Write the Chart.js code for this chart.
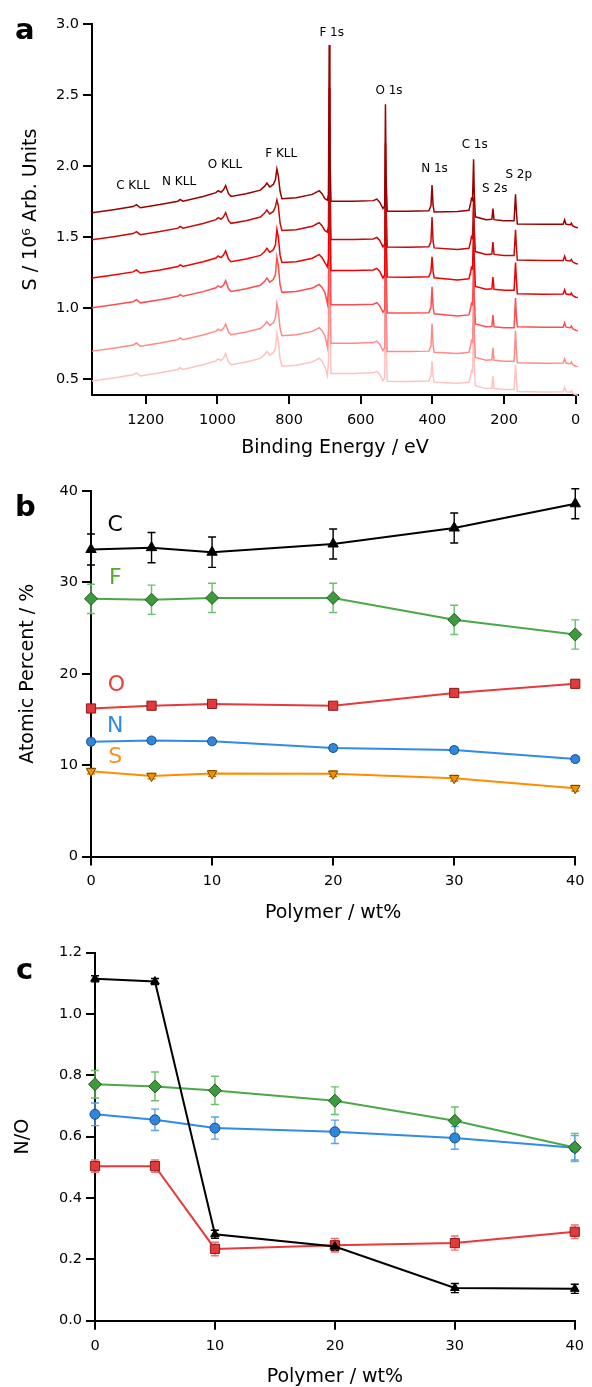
<!DOCTYPE html>
<html>
<head>
<meta charset="utf-8">
<script src="https://cdn.jsdelivr.net/npm/chart.js@4.4.1/dist/chart.umd.min.js"></script>
<style>
  html,body{margin:0;padding:0;background:#fff;}
  #wrap{position:relative;width:592px;height:1387px;overflow:hidden;font-family:"DejaVu Sans",sans-serif;}
  canvas{position:absolute;left:0;}
  .plab{position:absolute;font-weight:bold;font-size:29px;line-height:1;color:#000;}
</style>
</head>
<body>
<div id="wrap">
  <canvas id="ca" width="592" height="470" style="top:0;width:592px;height:470px"></canvas>
  <canvas id="cb" width="592" height="470" style="top:470px;width:592px;height:470px"></canvas>
  <canvas id="cc" width="592" height="447" style="top:940px;width:592px;height:447px"></canvas>
  <div class="plab" style="left:15px;top:15px">a</div>
  <div class="plab" style="left:15px;top:492px">b</div>
  <div class="plab" style="left:16px;top:955px">c</div>
</div>
<script>
// ---------------- Panel a : XPS survey spectra ----------------
const energy = [1350,1290,1235,1226,1215,1160,1110,1104,1096,1040,1004,998,990,983,977,969,962,920,880,868,862,854,844,838,834,830,825,820,780,735,722,716,708,700,693,690,688,686,683,620,565,555,547,538,533,531,529,526,470,410,404,401,398,395,330,298,293,291,288,285,283,280,250,234,231,228,200,172,168,166,163,90,35,31,27,15,12,9,0,-6];

const spectrum1 = [1.671,1.692,1.714,1.728,1.706,1.728,1.752,1.764,1.752,1.785,1.812,1.826,1.815,1.832,1.862,1.805,1.786,1.805,1.830,1.858,1.880,1.852,1.870,1.905,1.979,1.930,1.820,1.770,1.776,1.800,1.818,1.826,1.805,1.770,1.760,1.800,2.852,2.100,1.752,1.752,1.756,1.767,1.745,1.700,1.720,2.435,1.900,1.682,1.681,1.684,1.720,1.866,1.720,1.676,1.680,1.688,1.740,1.770,1.760,2.047,1.800,1.642,1.622,1.625,1.700,1.622,1.615,1.615,1.800,1.700,1.592,1.589,1.590,1.620,1.590,1.586,1.597,1.580,1.568,1.565];
const spectrum2 = [1.481,1.502,1.524,1.538,1.516,1.538,1.562,1.574,1.562,1.595,1.622,1.636,1.625,1.642,1.672,1.615,1.596,1.615,1.640,1.668,1.690,1.662,1.680,1.715,1.760,1.720,1.595,1.545,1.551,1.575,1.593,1.601,1.580,1.545,1.535,1.575,2.550,1.950,1.482,1.482,1.486,1.497,1.475,1.430,1.450,2.160,1.700,1.429,1.428,1.431,1.467,1.640,1.467,1.423,1.412,1.420,1.472,1.502,1.492,1.780,1.550,1.397,1.377,1.380,1.465,1.377,1.370,1.370,1.550,1.450,1.337,1.334,1.335,1.365,1.335,1.331,1.342,1.325,1.313,1.310];
const spectrum3 = [1.211,1.232,1.254,1.268,1.246,1.268,1.292,1.304,1.292,1.325,1.352,1.366,1.355,1.372,1.402,1.345,1.326,1.345,1.370,1.398,1.420,1.392,1.410,1.445,1.554,1.500,1.370,1.320,1.326,1.350,1.368,1.376,1.355,1.320,1.290,1.350,2.300,1.750,1.264,1.264,1.268,1.279,1.257,1.212,1.232,1.930,1.500,1.218,1.217,1.220,1.256,1.360,1.256,1.212,1.197,1.205,1.257,1.287,1.277,1.570,1.330,1.152,1.132,1.135,1.218,1.132,1.125,1.125,1.320,1.220,1.100,1.097,1.098,1.128,1.098,1.094,1.105,1.088,1.076,1.073];
const spectrum4 = [1.001,1.022,1.044,1.058,1.036,1.058,1.082,1.094,1.082,1.115,1.142,1.156,1.145,1.162,1.192,1.135,1.116,1.135,1.160,1.188,1.210,1.182,1.200,1.235,1.357,1.300,1.160,1.110,1.116,1.140,1.158,1.166,1.145,1.110,1.030,1.140,2.050,1.550,1.022,1.022,1.026,1.037,1.015,0.970,0.990,1.680,1.250,0.965,0.964,0.967,1.003,1.150,1.003,0.959,0.943,0.951,1.003,1.033,1.023,1.320,1.080,0.887,0.867,0.870,0.950,0.867,0.860,0.860,1.070,0.960,0.867,0.864,0.865,0.895,0.865,0.861,0.872,0.855,0.843,0.840];
const spectrum5 = [0.696,0.717,0.739,0.753,0.731,0.753,0.777,0.789,0.777,0.810,0.837,0.851,0.840,0.857,0.887,0.830,0.811,0.830,0.855,0.883,0.905,0.877,0.895,0.930,1.033,0.980,0.855,0.805,0.811,0.835,0.853,0.861,0.840,0.805,0.725,0.835,1.750,1.250,0.752,0.752,0.756,0.767,0.745,0.700,0.720,1.400,0.980,0.694,0.693,0.696,0.732,0.890,0.732,0.688,0.680,0.688,0.740,0.770,0.760,1.080,0.820,0.652,0.632,0.635,0.720,0.632,0.625,0.625,0.840,0.720,0.614,0.611,0.612,0.642,0.612,0.608,0.619,0.602,0.590,0.587];
const spectrum6 = [0.486,0.507,0.529,0.543,0.521,0.543,0.567,0.579,0.567,0.600,0.627,0.641,0.630,0.647,0.677,0.620,0.601,0.620,0.645,0.673,0.695,0.667,0.685,0.720,0.822,0.770,0.640,0.590,0.596,0.620,0.638,0.646,0.625,0.590,0.525,0.620,1.500,1.050,0.539,0.539,0.543,0.554,0.532,0.487,0.507,1.180,0.760,0.483,0.482,0.485,0.521,0.625,0.521,0.477,0.469,0.477,0.529,0.559,0.549,0.860,0.600,0.452,0.432,0.435,0.520,0.432,0.425,0.425,0.600,0.520,0.412,0.409,0.410,0.440,0.410,0.406,0.417,0.400,0.388,0.385];
const spectra = [spectrum1, spectrum2, spectrum3, spectrum4, spectrum5, spectrum6];
const spectrumColors = ['#9a0000','#c40a0a','#f00000','#ff4d4d','#ff8a8a','#ffc2c2'];

const xTicksA = [0,200,400,600,800,1000,1200];
const yTicksA = [0.5,1.0,1.5,2.0,2.5,3.0];

const peakNames = ['C KLL','N KLL','O KLL','F KLL','F 1s','O 1s','N 1s','C 1s','S 2s','S 2p'];
const peakLabelE = [1236,1107,979,822,681,521,394,282,226,159];
const peakLabelS = [1.859,1.887,2.011,2.085,2.940,2.530,1.979,2.148,1.838,1.937];

// ---------------- Panel b : atomic percent ----------------
const polymerWt = [0,5,10,20,30,40];
const atomicC = [33.6,33.8,33.3,34.2,35.95,38.6];
const atomicCErr = [1.7,1.66,1.66,1.64,1.64,1.64];
const atomicF = [28.2,28.1,28.3,28.3,25.9,24.3];
const atomicFErr = [1.6,1.6,1.6,1.6,1.6,1.6];
const atomicO = [16.2,16.5,16.7,16.5,17.9,18.9];
const atomicOErr = [0.35,0.35,0.35,0.35,0.4,0.4];
const atomicN = [12.56,12.7,12.6,11.87,11.65,10.66];
const atomicNErr = [0.3,0.3,0.3,0.3,0.3,0.3];
const atomicS = [9.34,8.8,9.08,9.05,8.57,7.47];
const atomicSErr = [0.3,0.3,0.3,0.3,0.3,0.3];
const yTicksB = [0,10,20,30,40];
const xTicksB = [0,10,20,30,40];
const elementNames = ['C','F','O','N','S'];
const elementLabelY = [36.2,30.4,18.7,14.3,10.9];
const elementLabelX = [2,2,2.1,2,2];

// ---------------- Panel c : N/O ----------------
const ratioBlack = [1.115,1.106,0.282,0.242,0.1065,0.104];
const ratioBlackErr = [0.01,0.01,0.013,0.013,0.015,0.015];
const ratioGreen = [0.771,0.764,0.751,0.7175,0.652,0.565];
const ratioGreenErr = [0.045,0.047,0.046,0.045,0.045,0.046];
const ratioBlue = [0.673,0.655,0.628,0.616,0.596,0.564];
const ratioBlueErr = [0.037,0.035,0.036,0.038,0.037,0.04];
const ratioRed = [0.504,0.504,0.234,0.246,0.253,0.29];
const ratioRedErr = [0.02,0.02,0.022,0.022,0.023,0.022];
const yTicksC = [0,0.2,0.4,0.6,0.8,1.0,1.2];
const xTicksC = [0,10,20,30,40];

// ---------------- helpers ----------------
const FONT = '"DejaVu Sans", sans-serif';
Chart.defaults.font.family = FONT;
Chart.defaults.color = '#000';

function pts(xs, ys){ return xs.map((x,i)=>({x:x, y:ys[i]})); }

const errorBarPlugin = {
  id: 'errbars',
  beforeDatasetsDraw(chart){
    const ctx = chart.ctx, xs = chart.scales.x, ys = chart.scales.y;
    chart.data.datasets.forEach(ds=>{
      if(!ds.errors) return;
      ctx.save();
      ctx.strokeStyle = ds.errorColor; ctx.lineWidth = 1.4;
      ds.data.forEach((p,i)=>{
        const x = xs.getPixelForValue(p.x);
        const y1 = ys.getPixelForValue(p.y - ds.errors[i]);
        const y2 = ys.getPixelForValue(p.y + ds.errors[i]);
        ctx.beginPath();
        ctx.moveTo(x,y1); ctx.lineTo(x,y2);
        ctx.moveTo(x-4,y1); ctx.lineTo(x+4,y1);
        ctx.moveTo(x-4,y2); ctx.lineTo(x+4,y2);
        ctx.stroke();
      });
      ctx.restore();
    });
  }
};

function makeTextPlugin(id, items){
  return {
    id: id,
    afterDatasetsDraw(chart){
      const ctx = chart.ctx, xs = chart.scales.x, ys = chart.scales.y;
      ctx.save();
      ctx.textAlign = 'center'; ctx.textBaseline = 'middle';
      items.forEach(it=>{
        ctx.font = it.font; ctx.fillStyle = it.color;
        ctx.fillText(it.text, xs.getPixelForValue(it.x), ys.getPixelForValue(it.y));
      });
      ctx.restore();
    }
  };
}

function axisOpts(o){
  return {
    type:'linear', min:o.min, max:o.max, reverse:!!o.reverse,
    afterBuildTicks: s=>{ s.ticks = o.ticks.map(v=>({value:v})); },
    afterFit: s=>{ if(o.width!==undefined) s.width=o.width; if(o.height!==undefined) s.height=o.height; },
    border:{display:true, color:'#000', width:2},
    grid:{display:true, drawOnChartArea:false, drawTicks:true, tickLength:9, tickWidth:2, tickColor:'#000', color:'#000', lineWidth:2},
    ticks:{font:{size:14.5, family:FONT}, color:'#000', padding:o.pad, maxRotation:0, autoSkip:false,
      callback: o.fmt || (v=>String(v))},
    title:{display:true, text:o.title, color:'#000', font:{size:19, family:FONT, lineHeight:1}, padding:o.titlePad}
  };
}

function baseOptions(pad, xAxis, yAxis){
  return {
    responsive:false, animation:false, devicePixelRatio:1,
    layout:{padding:pad},
    plugins:{legend:{display:false}, tooltip:{enabled:false}},
    scales:{x:xAxis, y:yAxis}
  };
}

// ---------------- Chart a ----------------
new Chart(document.getElementById('ca'), {
  type:'line',
  data:{ datasets: spectra.map((s,k)=>({
    data: pts(energy, s), borderColor: spectrumColors[k], borderWidth:1.5,
    pointRadius:0, tension:0, fill:false, clip:false
  }))},
  options: baseOptions({left:0, right:14, top:24, bottom:0},
    axisOpts({min:-6.4, max:1350, reverse:true, ticks:xTicksA, height:75, pad:7.5,
      title:'Binding Energy / eV', titlePad:{top:0,bottom:12.5}}),
    axisOpts({min:0.387, max:3.0, ticks:yTicksA, width:92, pad:4, fmt:v=>v.toFixed(1),
      title:'S / 10⁶ Arb. Units', titlePad:{top:21.5,bottom:0}})),
  plugins:[makeTextPlugin('peaks', peakNames.map((t,i)=>({text:t, x:peakLabelE[i], y:peakLabelS[i], font:'12px '+FONT, color:'#000'})))]
});

// ---------------- Chart b ----------------
function series(ys, errs, color, fill, edge, style, r, rot, errColor){
  return {data: pts(polymerWt, ys), errors: errs, errorColor: errColor,
    borderColor: color, borderWidth: 2, backgroundColor: fill, pointBackgroundColor: fill,
    pointBorderColor: edge, pointBorderWidth: 1, pointStyle: style, pointRadius: r, pointRotation: rot,
    tension: 0, fill: false, clip: false};
}
const elementColors = ['#000000','#56a92c','#e8413c','#2d8ce0','#f7941d'];
new Chart(document.getElementById('cb'), {
  type:'line',
  data:{ datasets:[
    series(atomicC, atomicCErr, '#000000', '#000000', '#000000', 'triangle', 6, 0, '#000000'),
    series(atomicF, atomicFErr, '#4aa84a', '#3d9a3d', '#1f5a1f', 'rectRot', 6.5, 0, '#6cbf6c'),
    series(atomicO, atomicOErr, '#e8393a', '#e03a3a', '#8a1c1c', 'rect', 6.5, 0, '#a82020'),
    series(atomicN, atomicNErr, '#2f8be6', '#2f86db', '#1b4f8a', 'circle', 4.5, 0, '#2a7fd6'),
    series(atomicS, atomicSErr, '#ff8c00', '#f39200', '#7a4a00', 'triangle', 5.5, 180, '#c07000')
  ]},
  options: baseOptions({left:0, right:11, top:21, bottom:0},
    axisOpts({min:0, max:40, ticks:xTicksB, height:83.5, pad:7.5,
      title:'Polymer / wt%', titlePad:{top:0,bottom:17.5}}),
    axisOpts({min:0, max:40, ticks:yTicksB, width:91, pad:4,
      title:'Atomic Percent / %', titlePad:{top:19,bottom:0}})),
  plugins:[errorBarPlugin, makeTextPlugin('elems', elementNames.map((t,i)=>({text:t, x:elementLabelX[i], y:elementLabelY[i], font:'22px '+FONT, color:elementColors[i]})))]
});

// ---------------- Chart c ----------------
new Chart(document.getElementById('cc'), {
  type:'line',
  data:{ datasets:[
    series(ratioBlack, ratioBlackErr, '#000000', '#000000', '#000000', 'triangle', 5, 0, '#000000'),
    series(ratioGreen, ratioGreenErr, '#4aa84a', '#3d9a3d', '#1f5a1f', 'rectRot', 6.5, 0, '#6cbf6c'),
    series(ratioBlue, ratioBlueErr, '#2f8be6', '#2f86db', '#1b4f8a', 'circle', 5, 0, '#5aa2ea'),
    series(ratioRed, ratioRedErr, '#e8393a', '#e03a3a', '#8a1c1c', 'rect', 6.5, 0, '#ec7070')
  ]},
  options: baseOptions({left:0, right:17, top:12.3, bottom:0},
    axisOpts({min:0, max:40, ticks:xTicksC, height:66.3, pad:8,
      title:'Polymer / wt%', titlePad:{top:0,bottom:0.5}}),
    axisOpts({min:0, max:1.2, ticks:yTicksC, width:95, pad:4, fmt:v=>v.toFixed(1),
      title:'N/O', titlePad:{top:14,bottom:0}})),
  plugins:[errorBarPlugin]
});
</script>
</body>
</html>
